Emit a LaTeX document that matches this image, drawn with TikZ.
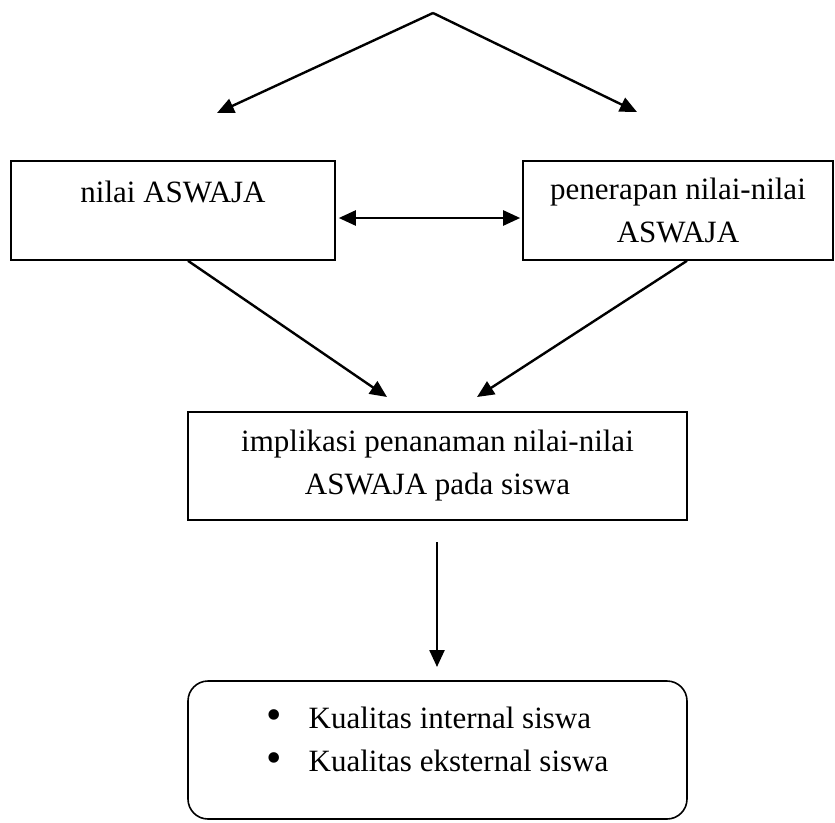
\documentclass[tikz,border=0pt]{standalone}
\usepackage{fontspec}
\setmainfont{Liberation Serif}
\usetikzlibrary{arrows.meta}

\newcommand{\butir}{\makebox[42pt][l]{\raisebox{-1pt}{\fontsize{44}{43}\selectfont\textbullet}}}

\begin{document}
\begin{tikzpicture}[
            x=1pt, y=-1pt,
            every node/.style={font=\fontsize{31}{43}\selectfont},
            box/.style={draw, line width=1.6pt, align=center, inner sep=4pt},
            arr/.style={line width=2.4pt, -{Triangle[length=17pt,width=15pt]}},
            ]
            \useasboundingbox (0,0) rectangle (835,822);
            % top split
            \coordinate (top) at (433,13);
            \coordinate (kiri) at (217,113);
            \coordinate (kanan) at (637,112);
            \draw[arr] (top) -- (kiri);
            \draw[arr] (top) -- (kanan);
            % boxes
            \node[box, minimum width=324pt, text height=37pt, text depth=54pt] (nilai) at (173,210.5) {nilai ASWAJA};
            \node[box, minimum width=310pt, minimum height=99pt] (terap) at (678,210.5) {penerapan nilai-nilai\\ASWAJA};
            \node[box, minimum width=499pt, minimum height=108pt] (implikasi) at (437.5,466) {implikasi penanaman nilai-nilai\\ASWAJA pada siswa};
            \node[box, rounded corners=20pt, minimum width=499pt, minimum height=138pt, align=left, text depth=22pt] (kualitas) at (437.5,750)
                {\butir Kualitas internal siswa\\\butir Kualitas eksternal siswa};
            % connectors
            \draw[line width=2.4pt, {Triangle[length=17pt,width=15pt]}-{Triangle[length=17pt,width=15pt]}]
                ([xshift=3pt,yshift=-7.5pt]nilai.east) -- ([xshift=-2pt,yshift=-7.5pt]terap.west);
            \coordinate (masuk1) at (387,397);
            \coordinate (masuk2) at (477,397);
            \draw[arr] ([xshift=15pt]nilai.south) -- (masuk1);
            \draw[arr] ([xshift=9pt]terap.south) -- (masuk2);
            \coordinate (turun) at (437,542);
            \coordinate (hasil) at (437,667);
            \draw[arr] (turun) -- (hasil);
\end{tikzpicture}
\end{document}
